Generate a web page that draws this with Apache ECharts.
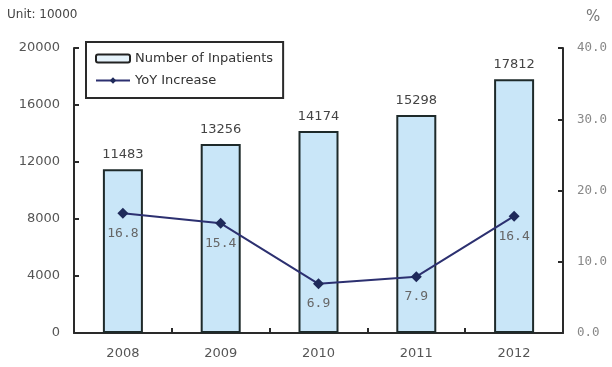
<!DOCTYPE html>
<html>
<head>
<meta charset="utf-8">
<script src="https://cdn.jsdelivr.net/npm/echarts@6/dist/echarts.min.js"></script>
<style>
  html, body { margin: 0; padding: 0; background: #fff; }
  #chart { width: 612px; height: 367px; }
</style>
</head>
<body>
<div id="chart"></div>
<script>
// Inpatient totals (unit: 10000) and year-on-year growth (%)
const years = ['2008', '2009', '2010', '2011', '2012'];
const inpatients = [11483, 13256, 14174, 15298, 17812];
const yoyIncrease = [16.8, 15.4, 6.9, 7.9, 16.4];
const leftTicks = { min: 0, max: 20000, interval: 4000 };
const rightTicks = { min: 0, max: 40, interval: 10 };

const axisColor = '#2a2a2a';
const textColor = '#555';
const sans = 'DejaVu Sans, sans-serif';
const mono = 'DejaVu Sans Mono, monospace';

const chart = echarts.init(document.getElementById('chart'), null, { renderer: 'canvas' });

chart.setOption({
  animation: false,
  backgroundColor: '#fff',
  title: [
    { text: 'Unit: 10000', left: 7, top: 9, padding: 0,
      textStyle: { fontSize: 12, fontWeight: 'normal', color: '#444', fontFamily: sans } },
    { text: '%', left: 586, top: 10, padding: 0,
      textStyle: { fontSize: 15, fontWeight: 'normal', color: '#777', fontFamily: sans } }
  ],
  legend: {
    orient: 'vertical',
    left: 86,
    top: 42,
    padding: [10, 10, 11, 9],
    itemGap: 9,
    itemWidth: 34,
    itemHeight: 8,
    borderColor: axisColor,
    borderWidth: 2,
    textStyle: { fontSize: 13, color: '#333', fontFamily: sans },
    data: [
      { name: 'Number of Inpatients',
        itemStyle: { color: '#e6f3fb', borderColor: '#222', borderWidth: 2 } },
      { name: 'YoY Increase' }
    ]
  },
  grid: { left: 74, right: 49, top: 48, bottom: 34 },
  xAxis: {
    type: 'category',
    data: years,
    boundaryGap: true,
    axisLine: { lineStyle: { color: axisColor, width: 2 } },
    axisTick: { show: true, inside: true, length: 5, alignWithLabel: false,
      lineStyle: { color: axisColor, width: 2 } },
    axisLabel: { color: textColor, fontSize: 13, margin: 14, fontFamily: sans },
    splitLine: { show: false }
  },
  yAxis: [
    {
      type: 'value',
      min: leftTicks.min, max: leftTicks.max, interval: leftTicks.interval,
      axisLine: { show: true, lineStyle: { color: axisColor, width: 2 } },
      axisTick: { show: true, inside: true, length: 5, lineStyle: { color: axisColor, width: 2 } },
      axisLabel: { color: textColor, fontSize: 13, margin: 14, fontFamily: sans,
        formatter: v => String(v) },
      splitLine: { show: false }
    },
    {
      type: 'value',
      min: rightTicks.min, max: rightTicks.max, interval: rightTicks.interval,
      position: 'right',
      axisLine: { show: true, lineStyle: { color: axisColor, width: 2 } },
      axisTick: { show: true, inside: true, length: 5, lineStyle: { color: axisColor, width: 2 } },
      axisLabel: { color: '#888', fontSize: 12.5, margin: 14, fontFamily: mono,
        formatter: v => v.toFixed(1) },
      splitLine: { show: false }
    }
  ],
  series: [
    {
      name: 'Number of Inpatients',
      type: 'bar',
      yAxisIndex: 0,
      data: inpatients,
      barWidth: 40,
      itemStyle: { color: '#c9e6f8', borderColor: '#1e2a2a', borderWidth: 2 },
      label: { show: true, position: 'top', distance: 8, color: '#444', fontSize: 13, fontFamily: sans }
    },
    {
      name: 'YoY Increase',
      type: 'line',
      yAxisIndex: 1,
      data: yoyIncrease,
      symbol: 'diamond',
      symbolSize: 11,
      lineStyle: { color: '#2c3070', width: 2 },
      itemStyle: { color: '#1f2a5a' },
      label: { show: true, position: 'bottom', distance: 8, color: '#666', fontSize: 13, fontFamily: mono }
    }
  ]
});
</script>
</body>
</html>
